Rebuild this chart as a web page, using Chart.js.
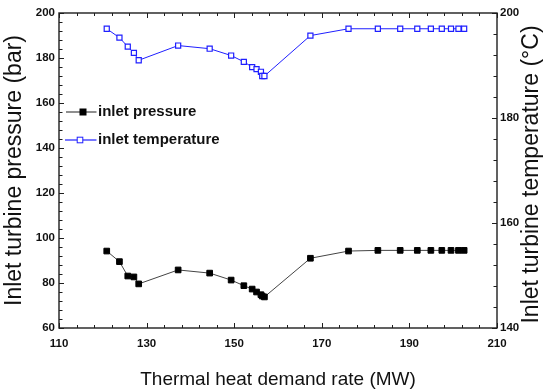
<!DOCTYPE html>
<html>
<head>
<meta charset="utf-8">
<script src="https://cdn.jsdelivr.net/npm/chart.js@4/dist/chart.umd.min.js"></script>
<style>
  html, body { margin: 0; padding: 0; background: #fff; }
  #wrap { width: 550px; height: 389px; }
</style>
</head>
<body>
<div id="wrap"><canvas id="c" width="550" height="389"></canvas></div>
<script>
// ---- data ----
const heatDemand = [120.9, 123.8, 125.7, 127.1, 128.2, 137.2, 144.4, 149.3, 152.2, 154.1, 155.1, 156.1, 156.4, 156.9, 167.4, 176.1, 182.8, 187.9, 191.8, 194.9, 197.4, 199.5, 201.2, 202.5];
const inletPressure = [94.2, 89.5, 83.1, 82.7, 79.6, 85.8, 84.4, 81.3, 78.8, 77.3, 76.0, 74.8, 74.2, 73.8, 91.0, 94.2, 94.5, 94.5, 94.5, 94.5, 94.5, 94.5, 94.5, 94.5];
const inletTemperature = [197.0, 195.3, 193.6, 192.4, 191.0, 193.8, 193.2, 191.9, 190.7, 189.7, 189.3, 188.8, 188.0, 188.0, 195.7, 197.0, 197.0, 197.0, 197.0, 197.0, 197.0, 197.0, 197.0, 197.0];
const seriesNames = ['inlet pressure', 'inlet temperature'];
const xTicks = [110, 130, 150, 170, 190, 210];
const pressureTicks = [60, 80, 100, 120, 140, 160, 180, 200];
const temperatureTicks = [140, 160, 180, 200];
const xTitle = 'Thermal heat demand rate (MW)';
const yTitle = 'Inlet turbine pressure (bar)';
const y1Title = 'Inlet turbine temperature (\u00B0C)';

const FONT = '"Liberation Sans", Arial, sans-serif';
const AXIS = '#1e1e1e';

const pts = (xs, ys) => xs.map((x, i) => ({ x: x, y: ys[i] }));

// frame + inward ticks drawn through the chart's scales
const frameTicks = {
  id: 'frameTicks',
  beforeDatasetsDraw(chart) {
    const { ctx, chartArea: a, scales } = chart;
    ctx.save();
    ctx.strokeStyle = AXIS;
    ctx.lineWidth = 1;
    const minorStep = 4;
    const sx = scales.x;
    for (let v = sx.min; v <= sx.max + 1e-9; v += minorStep) {
      const major = xTicks.some(t => Math.abs(t - v) < 1e-6);
      const len = major ? 5 : 3;
      const px = Math.round(sx.getPixelForValue(v)) + 0.5;
      ctx.beginPath();
      ctx.moveTo(px, a.bottom); ctx.lineTo(px, a.bottom - len);
      ctx.moveTo(px, a.top); ctx.lineTo(px, a.top + len);
      ctx.stroke();
    }
    const sy = scales.y;
    for (let v = sy.min; v <= sy.max + 1e-9; v += minorStep) {
      const major = pressureTicks.some(t => Math.abs(t - v) < 1e-6);
      const len = major ? 5 : 3.5;
      const py = Math.round(sy.getPixelForValue(v)) + 0.5;
      ctx.beginPath();
      ctx.moveTo(a.left, py); ctx.lineTo(a.left + len, py);
      ctx.stroke();
    }
    const sy1 = scales.y1;
    for (let v = sy1.min; v <= sy1.max + 1e-9; v += minorStep) {
      const major = temperatureTicks.some(t => Math.abs(t - v) < 1e-6);
      const len = major ? 5 : 3.5;
      const py = Math.round(sy1.getPixelForValue(v)) + 0.5;
      ctx.beginPath();
      ctx.moveTo(a.right, py); ctx.lineTo(a.right - len, py);
      ctx.stroke();
    }
    ctx.lineWidth = 1.4;
    ctx.strokeRect(a.left, a.top, a.right - a.left, a.bottom - a.top);
    ctx.restore();
  }
};

// right-axis title, reading bottom-to-top like the reference
const rightTitle = {
  id: 'rightTitle',
  afterDraw(chart) {
    const { ctx, chartArea: a, scales } = chart;
    const s = scales.y1;
    ctx.save();
    ctx.translate(s.right - 18.5, (a.top + a.bottom) / 2 + 4);
    ctx.rotate(-Math.PI / 2);
    ctx.fillStyle = '#111';
    ctx.font = '23px ' + FONT;
    ctx.textAlign = 'center';
    ctx.textBaseline = 'middle';
    ctx.fillText(y1Title, 0, 0);
    ctx.restore();
  }
};

// legend inside the plot area, top-left
const insideLegend = {
  id: 'insideLegend',
  afterDatasetsDraw(chart) {
    const { ctx, chartArea: a } = chart;
    const rows = [
      { ds: chart.data.datasets[0], y: a.top + 99, mx: a.left + 24, x0: a.left + 7, r: 3.0 },
      { ds: chart.data.datasets[1], y: a.top + 127, mx: a.left + 21, x0: a.left + 6, r: 2.8 }
    ];
    ctx.save();
    rows.forEach(r => {
      ctx.strokeStyle = r.ds.borderColor;
      ctx.lineWidth = 1.2;
      ctx.beginPath();
      ctx.moveTo(r.x0, r.y); ctx.lineTo(a.left + 37.5, r.y);
      ctx.stroke();
      ctx.fillStyle = r.ds.pointBackgroundColor;
      ctx.strokeStyle = r.ds.pointBorderColor;
      ctx.lineWidth = 1;
      const s = r.r;
      ctx.fillRect(r.mx - s, r.y - s, 2 * s, 2 * s);
      ctx.strokeRect(r.mx - s, r.y - s, 2 * s, 2 * s);
      ctx.fillStyle = '#111';
      ctx.font = 'bold 15px ' + FONT;
      ctx.textBaseline = 'middle';
      ctx.textAlign = 'left';
      ctx.fillText(r.ds.label, a.left + 39, r.y - 0.5);
    });
    ctx.restore();
  }
};

const tickFont = { family: FONT, size: 11.5, weight: 'bold' };

new Chart(document.getElementById('c'), {
  type: 'line',
  data: {
    datasets: [
      {
        label: seriesNames[0],
        data: pts(heatDemand, inletPressure),
        yAxisID: 'y',
        borderColor: '#444444',
        borderWidth: 1,
        pointStyle: 'rect',
        pointRadius: 4,
        pointBackgroundColor: '#000000',
        pointBorderColor: '#000000',
        pointBorderWidth: 1,
        tension: 0
      },
      {
        label: seriesNames[1],
        data: pts(heatDemand, inletTemperature),
        yAxisID: 'y1',
        borderColor: '#1f1fff',
        borderWidth: 1,
        pointStyle: 'rect',
        pointRadius: 3.6,
        pointBackgroundColor: '#ffffff',
        pointBorderColor: '#1f1fff',
        pointBorderWidth: 1.2,
        tension: 0
      }
    ]
  },
  options: {
    responsive: false,
    animation: false,
    devicePixelRatio: 1,
    layout: { padding: { top: 13, left: 0, right: 0, bottom: 0 } },
    plugins: { legend: { display: false }, tooltip: { enabled: false } },
    scales: {
      x: {
        type: 'linear',
        min: 110, max: 210,
        afterBuildTicks: s => { s.ticks = xTicks.map(v => ({ value: v })); },
        ticks: { font: tickFont, color: '#111', padding: 9, maxRotation: 0, autoSkip: false },
        grid: { display: false, drawTicks: false },
        border: { display: false },
        title: { display: true, text: xTitle, color: '#111', font: { family: FONT, size: 19, lineHeight: 1 }, padding: { top: 0, bottom: 0 } },
        afterFit: s => { s.height = 61; }
      },
      y: {
        position: 'left',
        min: 60, max: 200,
        afterBuildTicks: s => { s.ticks = pressureTicks.map(v => ({ value: v })); },
        ticks: { font: tickFont, color: '#111', padding: 4 },
        grid: { display: false, drawTicks: false },
        border: { display: false },
        title: { display: true, text: yTitle, color: '#111', font: { family: FONT, size: 23, lineHeight: 1.2 }, padding: { top: 1, bottom: 0 } },
        afterFit: s => { s.width = 59; }
      },
      y1: {
        position: 'right',
        min: 140, max: 200,
        afterBuildTicks: s => { s.ticks = temperatureTicks.map(v => ({ value: v })); },
        ticks: { font: tickFont, color: '#111', padding: 3 },
        grid: { display: false, drawTicks: false },
        border: { display: false },
        title: { display: false },
        afterFit: s => { s.width = 53; }
      }
    }
  },
  plugins: [frameTicks, insideLegend, rightTitle]
});
</script>
</body>
</html>
